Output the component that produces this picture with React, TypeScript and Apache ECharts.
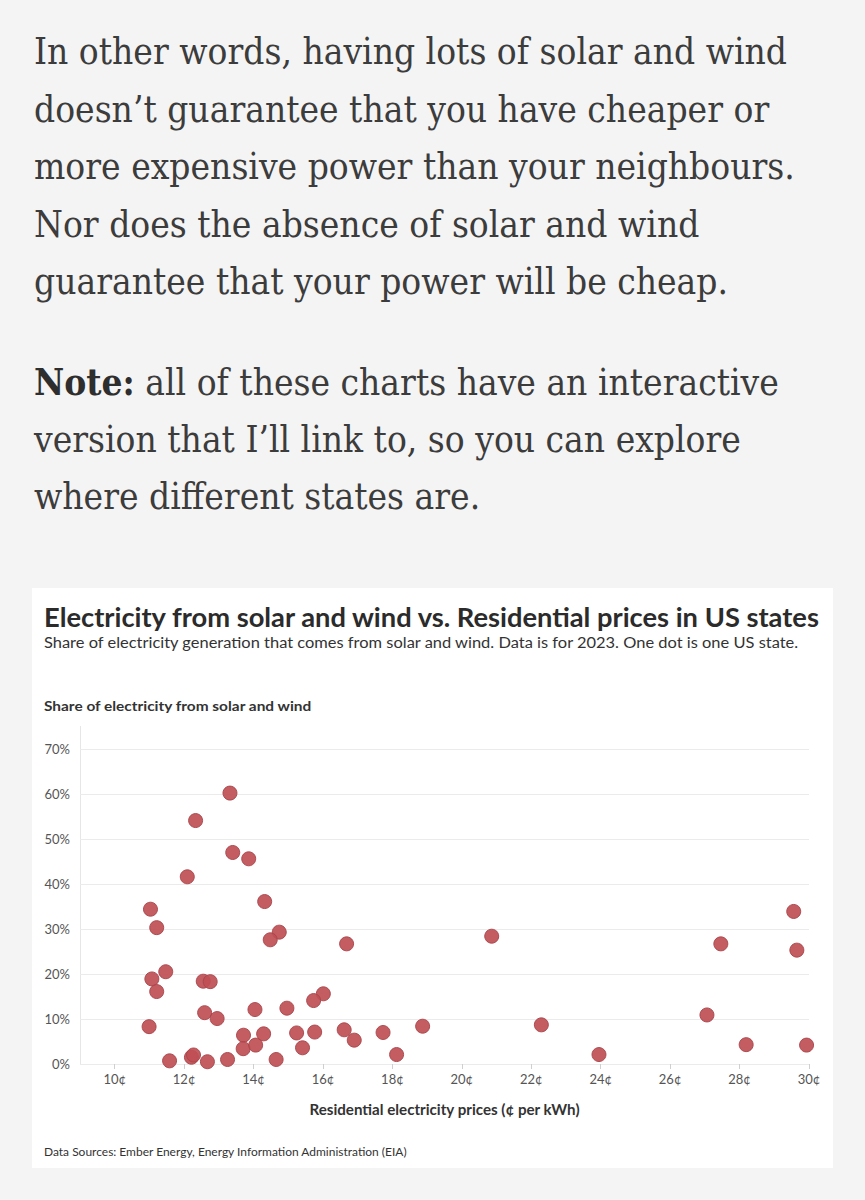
import React, { useEffect, useRef } from "react";
import * as echarts from "echarts";

// ---- Text content ----
const PARAGRAPH_1 = [
  "In other words, having lots of solar and wind",
  "doesn\u2019t guarantee that you have cheaper or",
  "more expensive power than your neighbours.",
  "Nor does the absence of solar and wind",
  "guarantee that your power will be cheap.",
];
const NOTE_LABEL = "Note:";
const PARAGRAPH_2 = [
  " all of these charts have an interactive",
  "version that I\u2019ll link to, so you can explore",
  "where different states are.",
];
const TITLE = "Electricity from solar and wind vs. Residential prices in US states";
const SUBTITLE =
  "Share of electricity generation that comes from solar and wind. Data is for 2023. One dot is one US state.";
const Y_TITLE = "Share of electricity from solar and wind";
const X_TITLE = "Residential electricity prices (\u00a2 per kWh)";
const SOURCE = "Data Sources: Ember Energy, Energy Information Administration (EIA)";

// ---- Data: residential price (cents/kWh) and solar+wind share (%) ----
const PRICES = [
  13.32, 12.33, 13.4, 13.86, 12.09, 14.32, 11.03, 11.21, 14.74, 14.48,
  11.47, 11.07, 12.55, 12.75, 11.21, 16.01, 15.73, 14.04, 14.96, 12.59,
  12.95, 10.99, 13.71, 14.29, 15.24, 15.76, 13.7, 14.06, 15.41, 11.58,
  12.21, 12.27, 12.67, 13.25, 14.65, 16.68, 16.61, 16.9, 20.86, 17.73,
  18.12, 18.87, 22.29, 29.56, 27.46, 29.65, 27.06, 28.19, 29.93, 23.95,
];
const SHARES = [
  60.2, 54.1, 47.0, 45.6, 41.6, 36.1, 34.4, 30.3, 29.3, 27.6,
  20.5, 18.9, 18.4, 18.3, 16.1, 15.6, 14.1, 12.1, 12.4, 11.4,
  10.1, 8.3, 6.4, 6.7, 6.9, 7.1, 3.4, 4.2, 3.6, 0.7,
  1.5, 2.0, 0.5, 1.0, 1.0, 26.7, 7.6, 5.3, 28.4, 7.0,
  2.1, 8.4, 8.7, 33.9, 26.7, 25.3, 10.9, 4.3, 4.2, 2.1,
];
const X_TICKS = [10, 12, 14, 16, 18, 20, 22, 24, 26, 28, 30];
const X_MIN = 9;
const X_MAX = 30;
const Y_MIN = 0;
const Y_MAX = 70;
const Y_STEP = 10;

const W = 865;
const H = 1200;
const GRID_LEFT = 80;
const GRID_RIGHT_X = 809;
const GRID_TOP = 749;
const GRID_BOTTOM_Y = 1064;

export default function App() {
  const ref = useRef<HTMLDivElement>(null);

  useEffect(() => {
    if (!ref.current) return;
    const chart = echarts.init(ref.current, null, { renderer: "svg", width: W, height: H });

    const ctx = document.createElement("canvas").getContext("2d") as CanvasRenderingContext2D;
    const measure = (text: string, font: string) => {
      ctx.font = font;
      return ctx.measureText(text).width;
    };

    const PARA_FAMILY = '"DejaVu Serif"';
    const PARA_SIZE = 37;
    const paraFont = `normal ${PARA_SIZE}px ${PARA_FAMILY}`;
    const paraScale = 753 / measure(PARAGRAPH_1[0], paraFont);

    const SANS = "Lato";
    const fitScale = (text: string, font: string, target: number) => target / measure(text, font);

    const para1Y = [51, 108.5, 166, 223.5, 281];
    const para2Y = [382, 439, 496];
    const PARA_COLOR = "#3c3c3c";

    const graphics: any[] = [];

    PARAGRAPH_1.forEach((line, i) => {
      graphics.push({
        type: "text",
        x: 34,
        y: para1Y[i],
        scaleX: paraScale,
        style: {
          text: line,
          fill: PARA_COLOR,
          fontFamily: PARA_FAMILY,
          fontSize: PARA_SIZE,
          fontWeight: "normal",
          textVerticalAlign: "middle",
          textAlign: "left",
        },
      });
    });

    PARAGRAPH_2.forEach((line, i) => {
      graphics.push({
        type: "text",
        x: 34,
        y: para2Y[i],
        scaleX: paraScale,
        style: {
          text: i === 0 ? `{b|${NOTE_LABEL}}{r|${line}}` : line,
          fill: PARA_COLOR,
          fontFamily: PARA_FAMILY,
          fontSize: PARA_SIZE,
          fontWeight: "normal",
          textVerticalAlign: "middle",
          textAlign: "left",
          rich: {
            b: { fontFamily: PARA_FAMILY, fontSize: PARA_SIZE, fontWeight: "bold", fill: "#2e2e2e" },
            r: { fontFamily: PARA_FAMILY, fontSize: PARA_SIZE, fontWeight: "normal", fill: PARA_COLOR },
          },
        },
      });
    });

    // white card
    graphics.push({
      type: "rect",
      z: -10,
      shape: { x: 32, y: 588, width: 801, height: 580 },
      style: { fill: "#ffffff" },
    });

    const titleFont = `bold 26px ${SANS}`;
    graphics.push({
      type: "text",
      x: 44,
      y: 617,
      scaleX: fitScale(TITLE, titleFont, 778),
      style: {
        text: TITLE,
        fill: "#2b2b2b",
        fontFamily: SANS,
        fontSize: 26,
        fontWeight: "bold",
        textVerticalAlign: "middle",
      },
    });

    const subFont = `normal 16px ${SANS}`;
    graphics.push({
      type: "text",
      x: 44,
      y: 642,
      scaleX: fitScale(SUBTITLE, subFont, 756),
      style: {
        text: SUBTITLE,
        fill: "#333333",
        fontFamily: SANS,
        fontSize: 16,
        textVerticalAlign: "middle",
      },
    });

    const yTitleFont = `bold 14px ${SANS}`;
    graphics.push({
      type: "text",
      x: 44,
      y: 705,
      scaleX: fitScale(Y_TITLE, yTitleFont, 269),
      style: {
        text: Y_TITLE,
        fill: "#333333",
        fontFamily: SANS,
        fontSize: 14,
        fontWeight: "bold",
        textVerticalAlign: "middle",
      },
    });

    const xTitleFont = `bold 15px ${SANS}`;
    graphics.push({
      type: "text",
      x: (GRID_LEFT + GRID_RIGHT_X) / 2,
      y: 1109,
      scaleX: fitScale(X_TITLE, xTitleFont, 271),
      style: {
        text: X_TITLE,
        fill: "#333333",
        fontFamily: SANS,
        fontSize: 15,
        fontWeight: "bold",
        textAlign: "center",
        textVerticalAlign: "middle",
      },
    });

    const srcFont = `normal 12px ${SANS}`;
    graphics.push({
      type: "text",
      x: 44,
      y: 1151,
      scaleX: fitScale(SOURCE, srcFont, 364),
      style: {
        text: SOURCE,
        fill: "#333333",
        fontFamily: SANS,
        fontSize: 12,
        textVerticalAlign: "middle",
      },
    });

    // vertical axis line (extends slightly above top gridline)
    graphics.push({
      type: "line",
      z: -5,
      shape: { x1: GRID_LEFT + 0.5, y1: 726, x2: GRID_LEFT + 0.5, y2: GRID_BOTTOM_Y },
      style: { stroke: "#e6e6e6", lineWidth: 1 },
    });

    const data = PRICES.map((p, i) => [p, SHARES[i]]);

    chart.setOption({
      animation: false,
      backgroundColor: "#f4f4f4",
      grid: {
        left: GRID_LEFT,
        right: W - GRID_RIGHT_X,
        top: GRID_TOP,
        bottom: H - GRID_BOTTOM_Y,
        containLabel: false,
      },
      xAxis: {
        type: "value",
        min: X_MIN,
        max: X_MAX,
        axisLine: { show: false },
        axisTick: {
          show: true,
          customValues: X_TICKS,
          length: 5,
          lineStyle: { color: "#cfcfcf" },
        },
        axisLabel: {
          customValues: X_TICKS,
          formatter: (v: number) => `${v}\u00a2`,
          color: "#555555",
          fontFamily: SANS,
          fontSize: 13,
          margin: 8,
        },
        splitLine: { show: false },
      },
      yAxis: {
        type: "value",
        min: Y_MIN,
        max: Y_MAX,
        interval: Y_STEP,
        axisLine: { show: false },
        axisTick: { show: false },
        axisLabel: {
          formatter: (v: number) => `${v}%`,
          color: "#555555",
          fontFamily: SANS,
          fontSize: 13,
          margin: 10,
        },
        splitLine: { show: true, lineStyle: { color: "#ebebeb", width: 1 } },
      },
      graphic: graphics,
      series: [
        {
          type: "scatter",
          data,
          symbolSize: 14,
          itemStyle: {
            color: "#bf4f55",
            opacity: 0.92,
            borderColor: "#a8444a",
            borderWidth: 1,
          },
          z: 5,
        },
      ],
    });

    return () => {
      chart.dispose();
    };
  }, []);

  return (
    <div
      ref={ref}
      style={{ position: "absolute", left: 0, top: 0, width: W, height: H, background: "#f4f4f4" }}
    />
  );
}
